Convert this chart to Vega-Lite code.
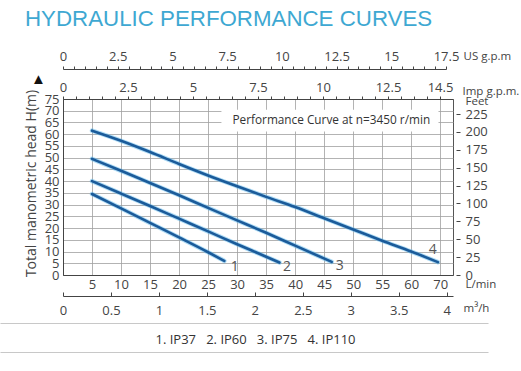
{
  "$schema": "https://vega.github.io/schema/vega-lite/v6.json",
  "width": 390,
  "height": 176,
  "autosize": {"type": "none"},
  "padding": {"left": 63, "top": 99, "right": 68, "bottom": 96},
  "background": "white",
  "title": {
    "text": "HYDRAULIC PERFORMANCE CURVES",
    "anchor": "start",
    "frame": "group",
    "font": "Liberation Sans",
    "fontSize": 22.3,
    "fontWeight": "normal",
    "color": "#3ea8d2",
    "dx": -38,
    "dy": -20,
    "offset": 0
  },
  "config": {
    "view": {"stroke": "#555", "strokeWidth": 1},
    "axis": {
      "labelFont": "Open Sans",
      "labelFontSize": 13,
      "labelColor": "#444",
      "titleFont": "Open Sans",
      "titleFontSize": 11.5,
      "titleFontWeight": "normal",
      "titleColor": "#444",
      "labelOverlap": false,
      "labelFlush": false,
      "labelBound": false,
      "domainColor": "#444",
      "tickColor": "#444"
    }
  },
  "datasets": {
    "curves": [
      {"pump": "1", "flow": 5, "head": 34.5},
      {"pump": "1", "flow": 10, "head": 28.4},
      {"pump": "1", "flow": 15, "head": 22.2},
      {"pump": "1", "flow": 20, "head": 16.0},
      {"pump": "1", "flow": 25, "head": 9.7},
      {"pump": "1", "flow": 27.8, "head": 6.0},
      {"pump": "2", "flow": 5, "head": 40.0},
      {"pump": "2", "flow": 10, "head": 34.7},
      {"pump": "2", "flow": 15, "head": 29.4},
      {"pump": "2", "flow": 20, "head": 24.0},
      {"pump": "2", "flow": 25, "head": 18.6},
      {"pump": "2", "flow": 30, "head": 13.1},
      {"pump": "2", "flow": 35, "head": 7.8},
      {"pump": "2", "flow": 37.3, "head": 5.3},
      {"pump": "3", "flow": 5, "head": 49.5},
      {"pump": "3", "flow": 10, "head": 44.4},
      {"pump": "3", "flow": 15, "head": 39.2},
      {"pump": "3", "flow": 20, "head": 34.0},
      {"pump": "3", "flow": 25, "head": 28.6},
      {"pump": "3", "flow": 30, "head": 23.3},
      {"pump": "3", "flow": 35, "head": 18.0},
      {"pump": "3", "flow": 40, "head": 12.5},
      {"pump": "3", "flow": 46.3, "head": 5.6},
      {"pump": "4", "flow": 5, "head": 61.5},
      {"pump": "4", "flow": 10, "head": 57.2},
      {"pump": "4", "flow": 15, "head": 52.4},
      {"pump": "4", "flow": 20, "head": 47.3},
      {"pump": "4", "flow": 25, "head": 42.4},
      {"pump": "4", "flow": 30, "head": 37.8},
      {"pump": "4", "flow": 35, "head": 33.3},
      {"pump": "4", "flow": 40, "head": 29.0},
      {"pump": "4", "flow": 45, "head": 24.2},
      {"pump": "4", "flow": 50, "head": 19.4},
      {"pump": "4", "flow": 55, "head": 14.6},
      {"pump": "4", "flow": 60, "head": 10.0},
      {"pump": "4", "flow": 64.6, "head": 5.5}
    ],
    "labels": [
      {"pump": "1", "flow": 29.6, "head": 3.2},
      {"pump": "2", "flow": 38.6, "head": 3.2},
      {"pump": "3", "flow": 47.7, "head": 3.7},
      {"pump": "4", "flow": 63.7, "head": 10.5}
    ],
    "note": [
      {"flow": 27.3, "flow2": 64.7, "head": 61.2, "head2": 70.4, "tflow": 29.2, "thead": 66.1, "text": "Performance Curve at n=3450 r/min"}
    ],
    "m3h": [{"m3h": 0, "feet": 0}, {"m3h": 4, "feet": 225}],
    "imp": [{"imp": 0, "v": 0}, {"imp": 14.5, "v": 1}],
    "us": [{"us": 0}, {"us": 17.5}],
    "sep": [{"v": 0}, {"v": 1}]
  },
  "resolve": {"scale": {"x": "independent", "y": "independent"}, "axis": {"x": "independent", "y": "independent"}},
  "layer": [
    {
      "data": {"name": "note"},
      "mark": {"type": "rect", "fill": "white"},
      "encoding": {
        "x": {
          "field": "flow", "type": "quantitative",
          "scale": {"domain": [0, 67.2], "nice": false, "zero": false},
          "axis": {
            "orient": "bottom",
            "values": [5, 10, 15, 20, 25, 30, 35, 40, 45, 50, 55, 60, 65],
            "labelExpr": "datum.value == 65 ? '70' : datum.label",
            "grid": true, "gridColor": "#a0a0a0", "gridWidth": 0.8,
            "tickSize": 0,
            "labelOverlap": false,
            "labelPadding": 3,
            "title": "L/min", "titleX": 402, "titleY": 9, "titleAlign": "left", "titleBaseline": "middle"
          }
        },
        "x2": {"field": "flow2"},
        "y": {
          "field": "head", "type": "quantitative",
          "scale": {"domain": [0, 75], "nice": false, "zero": false},
          "axis": {
            "orient": "left",
            "values": [0, 5, 10, 15, 20, 25, 30, 35, 40, 45, 50, 55, 60, 65, 70, 75],
            "grid": true, "gridColor": "#a0a0a0", "gridWidth": 0.8,
            "tickSize": 0,
            "labelOverlap": false,
            "labelPadding": 4,
            "labelBaseline": "middle",
            "title": "Total manometric head H(m)",
            "titleFontSize": 14,
            "titleX": -32, "titleY": 84, "titleAlign": "center", "titleBaseline": "middle", "titleAngle": -90
          }
        },
        "y2": {"field": "head2"}
      }
    },
    {
      "data": {"name": "note"},
      "mark": {"type": "text", "font": "Open Sans", "fontSize": 11.8, "color": "#333", "align": "left", "baseline": "middle"},
      "encoding": {
        "x": {"field": "tflow", "type": "quantitative", "scale": {"domain": [0, 67.2], "nice": false, "zero": false}, "axis": null},
        "y": {"field": "thead", "type": "quantitative", "scale": {"domain": [0, 75], "nice": false, "zero": false}, "axis": null},
        "text": {"field": "text"}
      }
    },
    {
      "data": {"name": "curves"},
      "mark": {"type": "line", "stroke": "#5cb8ec", "strokeWidth": 4.5, "opacity": 0.5, "strokeCap": "round", "interpolate": "monotone"},
      "encoding": {
        "x": {"field": "flow", "type": "quantitative", "scale": {"domain": [0, 67.2], "nice": false, "zero": false}, "axis": null},
        "y": {"field": "head", "type": "quantitative", "scale": {"domain": [0, 75], "nice": false, "zero": false}, "axis": null},
        "detail": {"field": "pump"}
      }
    },
    {
      "data": {"name": "curves"},
      "mark": {"type": "line", "stroke": "#1b5b9a", "strokeWidth": 2.6, "strokeCap": "round", "interpolate": "monotone"},
      "encoding": {
        "x": {"field": "flow", "type": "quantitative", "scale": {"domain": [0, 67.2], "nice": false, "zero": false}, "axis": null},
        "y": {"field": "head", "type": "quantitative", "scale": {"domain": [0, 75], "nice": false, "zero": false}, "axis": null},
        "detail": {"field": "pump"}
      }
    },
    {
      "data": {"name": "labels"},
      "mark": {"type": "text", "font": "Open Sans", "fontSize": 14, "color": "#555", "align": "center", "baseline": "middle"},
      "encoding": {
        "x": {"field": "flow", "type": "quantitative", "scale": {"domain": [0, 67.2], "nice": false, "zero": false}, "axis": null},
        "y": {"field": "head", "type": "quantitative", "scale": {"domain": [0, 75], "nice": false, "zero": false}, "axis": null},
        "text": {"field": "pump"}
      }
    },
    {
      "data": {"name": "m3h"},
      "mark": {"type": "point", "opacity": 0},
      "encoding": {
        "x": {
          "field": "m3h", "type": "quantitative",
          "scale": {"domain": [0, 4.066], "nice": false, "zero": false},
          "axis": {
            "orient": "bottom", "offset": 21,
            "values": [0, 0.5, 1, 1.5, 2, 2.5, 3, 3.5, 4],
            "format": ".1~f",
            "grid": false,
            "labelOverlap": false,
            "tickSize": -4,
            "labelPadding": 12,
            "title": "m³/h", "titleX": 400, "titleY": 12.5, "titleAlign": "left", "titleBaseline": "middle"
          }
        },
        "y": {
          "field": "feet", "type": "quantitative",
          "scale": {"domain": [0, 246.06], "nice": false, "zero": false},
          "axis": {
            "orient": "right", "offset": 3,
            "values": [0, 25, 50, 75, 100, 125, 150, 175, 200, 225],
            "grid": false, "domain": false,
            "labelOverlap": false,
            "tickSize": 4,
            "labelPadding": 5,
            "title": "Feet", "titleAngle": 0, "titleX": 9, "titleY": 2, "titleAlign": "left", "titleBaseline": "middle"
          }
        }
      }
    },
    {
      "data": {"name": "imp"},
      "mark": {"type": "point", "opacity": 0},
      "encoding": {
        "x": {
          "field": "imp", "type": "quantitative",
          "scale": {"domain": [0, 15], "nice": false, "zero": false},
          "axis": {
            "orient": "top", "offset": 0,
            "values": [0, 0.5, 1, 1.5, 2, 2.5, 3, 3.5, 4, 4.5, 5, 5.5, 6, 6.5, 7, 7.5, 8, 8.5, 9, 9.5, 10, 10.5, 11, 11.5, 12, 12.5, 13, 13.5, 14, 14.5],
            "format": ".1~f",
            "labelExpr": "(datum.value % 2.5 == 0 || datum.value == 14.5) ? datum.label : ''",
            "grid": false,
            "labelOverlap": false,
            "tickSize": 3,
            "labelPadding": 2,
            "title": "Imp g.p.m.", "titleX": 399, "titleY": -8, "titleAlign": "left", "titleBaseline": "middle"
          }
        },
        "y": {
          "field": "v", "type": "quantitative",
          "scale": {"domain": [0, 1], "nice": false},
          "axis": {
            "orient": "left", "labels": false, "ticks": false, "domain": false, "grid": false,
            "title": "▲", "titleAngle": 0, "titleFontSize": 15, "titleColor": "#111",
            "titleX": -25, "titleY": -21, "titleAlign": "center", "titleBaseline": "middle"
          }
        }
      }
    },
    {
      "data": {"name": "us"},
      "mark": {"type": "point", "opacity": 0},
      "encoding": {
        "x": {
          "field": "us", "type": "quantitative",
          "scale": {"domain": [0, 17.5], "range": [0, 383], "nice": false, "zero": false},
          "axis": {
            "orient": "top", "offset": 30,
            "values": [0, 0.5, 1, 1.5, 2, 2.5, 3, 3.5, 4, 4.5, 5, 5.5, 6, 6.5, 7, 7.5, 8, 8.5, 9, 9.5, 10, 10.5, 11, 11.5, 12, 12.5, 13, 13.5, 14, 14.5, 15, 15.5, 16, 16.5, 17, 17.5],
            "format": ".1~f",
            "labelExpr": "(datum.value % 2.5 == 0) ? datum.label : ''",
            "grid": false,
            "labelOverlap": false,
            "tickSize": 3,
            "labelPadding": 3,
            "title": "US g.p.m", "titleX": 400, "titleY": -12.6, "titleAlign": "left", "titleBaseline": "middle"
          }
        }
      }
    },
    {
      "data": {"name": "sep"},
      "mark": {"type": "rule", "opacity": 0},
      "encoding": {
        "x": {
          "field": "v", "type": "quantitative",
          "scale": {"domain": [0, 1], "range": [-63, 425], "nice": false, "zero": false},
          "axis": {
            "orient": "bottom", "offset": 48,
            "labels": false, "ticks": false, "grid": false,
            "domainColor": "#c8c8c8", "domainWidth": 1.2,
            "title": "1. IP37\u00a0\u00a0\u00a02. IP60\u00a0\u00a0\u00a03. IP75\u00a0\u00a0\u00a04. IP110",
            "titleColor": "#333", "titleFontSize": 13,
            "titleX": 192, "titleY": 16.3, "titleAlign": "center", "titleBaseline": "middle"
          }
        }
      }
    },
    {
      "data": {"name": "sep"},
      "mark": {"type": "rule", "opacity": 0},
      "encoding": {
        "x": {
          "field": "v", "type": "quantitative",
          "scale": {"domain": [0, 1], "range": [-63, 425], "nice": false, "zero": false},
          "axis": {
            "orient": "bottom", "offset": 77,
            "labels": false, "ticks": false, "grid": false,
            "domainColor": "#c8c8c8", "domainWidth": 1.2,
            "title": null
          }
        }
      }
    }
  ]
}
